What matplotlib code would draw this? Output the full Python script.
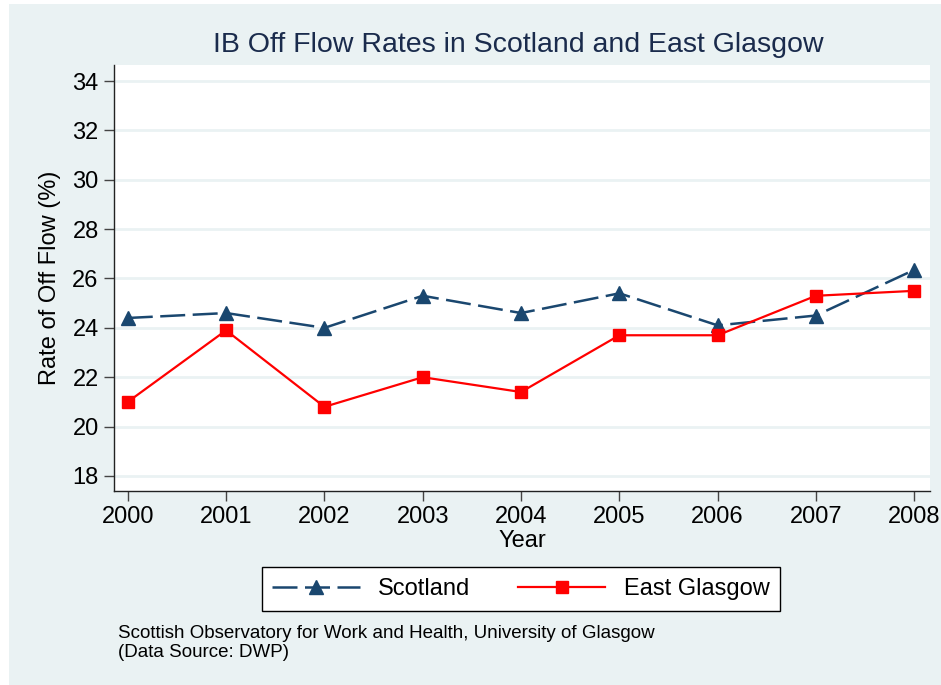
import matplotlib
matplotlib.use("Agg")
import matplotlib.pyplot as plt
from matplotlib.patches import Rectangle

# data
years = [2000, 2001, 2002, 2003, 2004, 2005, 2006, 2007, 2008]
scotland = [24.4, 24.6, 24.0, 25.3, 24.6, 25.4, 24.1, 24.5, 26.35]
east_glasgow = [21.0, 23.9, 20.8, 22.0, 21.4, 23.7, 23.7, 25.3, 25.5]
y_ticks = [18, 20, 22, 24, 26, 28, 30, 32, 34]

BG = '#eaf2f3'
NAVY = '#1a476f'
RED = '#ff0000'

plt.rcParams['font.family'] = ['Liberation Sans', 'DejaVu Sans']

W, H = 941, 685
fig = plt.figure(figsize=(W / 100, H / 100), dpi=100)
fig.patch.set_facecolor(BG)
# thin white margin on the left and top, as in the original
fig.patches.append(Rectangle((0, 0), 9 / W, 1, transform=fig.transFigure,
                             facecolor='white', edgecolor='none'))
fig.patches.append(Rectangle((0, 1 - 4 / H), 1, 4 / H, transform=fig.transFigure,
                             facecolor='white', edgecolor='none'))

ax = fig.add_axes([114 / W, 1 - 491 / H, (930 - 114) / W, (491 - 65) / H])
ax.set_facecolor('white')

ax.plot(years, scotland, color=NAVY, lw=1.8, dashes=(10, 3),
        marker='^', markersize=10, label='Scotland', zorder=3)
ax.plot(years, east_glasgow, color=RED, lw=1.6,
        marker='s', markersize=9, label='East Glasgow', zorder=4)

ax.set_xlim(1999.86, 2008.16)
ax.set_ylim(17.39, 34.65)
ax.set_xticks(years)
ax.set_yticks(y_ticks)
ax.tick_params(axis='both', labelsize=17, length=7, width=1, color='#444444', pad=4)
ax.grid(axis='y', color=BG, lw=2)
ax.set_axisbelow(True)
for side in ['top', 'right']:
    ax.spines[side].set_visible(False)
for side in ['left', 'bottom']:
    ax.spines[side].set_color('#222222')
    ax.spines[side].set_linewidth(1)

fig.text(518 / W, 1 - 45 / H, 'IB Off Flow Rates in Scotland and East Glasgow',
         ha='center', va='center', fontsize=20.5, color='#1a2b4c')
fig.text(522 / W, 1 - 541 / H, 'Year', ha='center', va='center', fontsize=17)
fig.text(50 / W, 1 - 278 / H, 'Rate of Off Flow (%)', ha='center', va='center',
         rotation=90, fontsize=17)

leg = fig.legend(loc='center', bbox_to_anchor=(521 / W, 1 - 589 / H), ncol=2,
                 fontsize=17, frameon=True, fancybox=False, handlelength=3.7,
                 columnspacing=2.0, borderpad=0.45, handletextpad=0.8)
leg.get_frame().set_edgecolor('black')
leg.get_frame().set_linewidth(1)
leg.get_frame().set_facecolor('white')
leg.get_frame().set_alpha(1)

fig.text(118 / W, 1 - 625 / H,
         'Scottish Observatory for Work and Health, University of Glasgow\n(Data Source: DWP)',
         ha='left', va='top', fontsize=13.5, linespacing=1.15)

fig.savefig('out.png', dpi=100, facecolor=fig.get_facecolor())
